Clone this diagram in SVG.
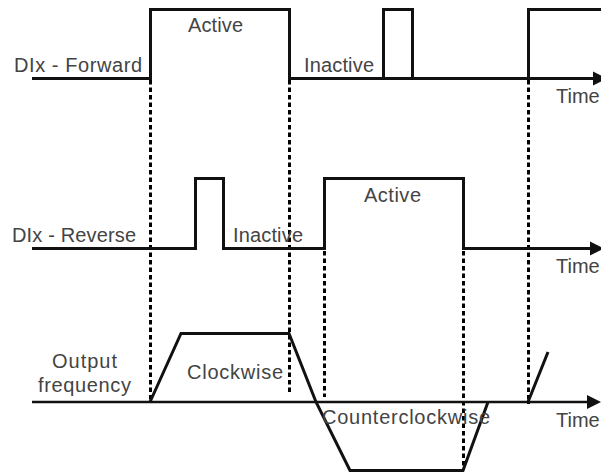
<svg xmlns="http://www.w3.org/2000/svg" width="601" height="475" viewBox="0 0 601 475">
<style>
.sig{fill:none;stroke:#111;stroke-width:3;stroke-linejoin:miter;stroke-linecap:butt}
.base{fill:none;stroke:#111;stroke-width:2.4}
.dot{fill:none;stroke:#000;stroke-width:3;stroke-dasharray:4.5 3}
.lbl{font-family:"Liberation Sans",Arial,sans-serif;font-size:20px;fill:#444}
</style>
<defs>
<path id="arrow" d="M0,-7 L14,0 L0,7 Z" fill="#111"/>
</defs>
<rect width="601" height="475" fill="#fff"/>
<g id="connectors">
<path class="dot" d="M150.5,80 V400"/>
<path class="dot" d="M289.5,80 V395"/>
<path class="dot" d="M324.5,251 V397"/>
<path class="dot" d="M463.5,251 V470"/>
<path class="dot" d="M528.5,80 V404"/>
</g>
<g id="forward">
<path class="sig" d="M32,78.5 H150.5 V9.5 H289.5 V78.5 H383.5 V9.5 H412.5 V78.5 H528.5 V9.5 H601"/>
<path class="sig" d="M289,78.5 H594"/>
<use href="#arrow" x="593" y="78.5"/>
<text class="lbl" x="14" y="72" textLength="128">DIx - Forward</text>
<text class="lbl" x="188" y="32" textLength="55">Active</text>
<text class="lbl" x="304" y="72" textLength="70">Inactive</text>
<text class="lbl" x="556" y="103">Time</text>
</g>
<g id="reverse">
<path class="sig" d="M32,248.5 H195.5 V178.5 H223.5 V248.5 H324.5 V178.5 H463.5 V248.5 H591"/>
<use href="#arrow" x="590" y="248.5"/>
<text class="lbl" x="12" y="242" textLength="124">DIx - Reverse</text>
<text class="lbl" x="233" y="242" textLength="70">Inactive</text>
<text class="lbl" x="364" y="202" textLength="57">Active</text>
<text class="lbl" x="556" y="273">Time</text>
</g>
<g id="output">
<path class="base" d="M32,402 H588"/>
<use href="#arrow" x="587" y="402"/>
<path class="sig" d="M150,402 L181,333.5 H289 L316,402 L350,470.5 H463 L488,402"/>
<path class="sig" d="M528,402 L548,352"/>
<text class="lbl" x="52" y="368" textLength="65">Output</text>
<text class="lbl" x="38" y="392" textLength="93">frequency</text>
<text class="lbl" x="187" y="379" textLength="96">Clockwise</text>
<text class="lbl" x="322" y="424" textLength="168">Counterclockwise</text>
<text class="lbl" x="556" y="427">Time</text>
</g>
</svg>
